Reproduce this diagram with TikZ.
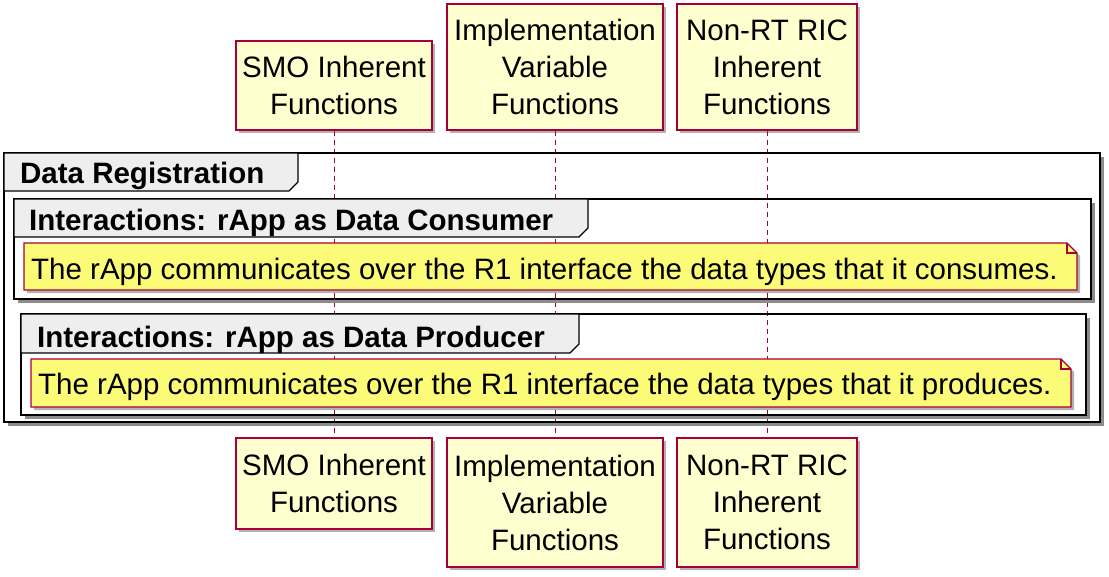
\documentclass[tikz,border=0pt]{standalone}
\usepackage{fontspec}
\setmainfont{Liberation Sans}
\usetikzlibrary{shadows}
\definecolor{umlred}{HTML}{A80036}
\definecolor{partfill}{HTML}{FEFECE}
\definecolor{notefill}{HTML}{FBFB77}
\definecolor{tabfill}{HTML}{EEEEEE}
\begin{document}
\begin{tikzpicture}[x=1pt,y=-1pt,
  txt/.style={font=\fontsize{29.5}{37}\selectfont},
  shade/.style={drop shadow={shadow xshift=3pt,shadow yshift=-3pt,fill=black,opacity=0.3}},
  part/.style={txt,draw=umlred,fill=partfill,line width=1.1pt,align=center,inner sep=0pt,shade},
  lifeline/.style={draw=umlred,line width=0.8pt,dash pattern=on 5pt off 4pt},
  frameline/.style={draw=black,line width=2.2pt},
  frameshadow/.style={draw=black!45,line width=2.5pt},
  tabline/.style={draw=black,fill=tabfill,line width=1.2pt},
  notebox/.style={draw=umlred,fill=notefill,line width=1.1pt},
  noteshadow/.style={fill=black,opacity=0.3},
  title/.style={font=\fontsize{29.5}{37}\selectfont\bfseries,anchor=base west,inner sep=0pt},
  notetext/.style={txt,anchor=base west,inner sep=0pt},
]
\useasboundingbox (0,0) rectangle (1109,576);

% participants, top row
\node[part,minimum width=196pt,minimum height=89pt] (smoT) at (334,85.5) {SMO Inherent\\Functions};
\node[part,minimum width=216pt,minimum height=126pt] (impT) at (555,67) {Implementation\\Variable\\Functions};
\node[part,minimum width=180pt,minimum height=126pt] (ricT) at (767,67) {Non-RT RIC\\Inherent\\Functions};

% participants, bottom row
\node[part,minimum width=196pt,minimum height=91pt] (smoB) at (334,483.5) {SMO Inherent\\Functions};
\node[part,minimum width=216pt,minimum height=129pt] (impB) at (555,502.5) {Implementation\\Variable\\Functions};
\node[part,minimum width=180pt,minimum height=129pt] (ricB) at (767,502.5) {Non-RT RIC\\Inherent\\Functions};

% lifelines
\draw[lifeline] (smoT.south) -- (smoB.north);
\draw[lifeline] (impT.south) -- (impB.north);
\draw[lifeline] (ricT.south) -- (ricB.north);

% outer group: Data Registration
\draw[frameshadow] (8,424.5) -- (1102.5,424.5) -- (1102.5,157);
\draw[frameline] (4,153) rectangle (1100,422);
\draw[tabline] (4,153) -- (298,153) -- (298,182) -- (289,191) -- (4,191) -- cycle;
\node[title] (tDR) at (20,183) {Data Registration};

% group: consumer
\draw[frameshadow] (18,301.5) -- (1093.5,301.5) -- (1093.5,203);
\draw[frameline] (14,199) rectangle (1091,299);
\draw[tabline] (14,199) -- (588,199) -- (588,228) -- (579,237) -- (14,237) -- cycle;
\node[title] (tC) at (29,230) {Interactions: rApp as Data Consumer};

\fill[noteshadow] (27,246) -- (1070,246) -- (1080,256) -- (1080,293) -- (27,293) -- cycle;
\draw[notebox] (24,243) -- (1067,243) -- (1077,253) -- (1077,290) -- (24,290) -- cycle;
\draw[umlred,line width=1.1pt] (1067,243) -- (1067,253) -- (1077,253);
\node[notetext] (nC) at (31,279) {The rApp communicates over the R1 interface the data types that it consumes.};

% group: producer
\draw[frameshadow] (25,417.5) -- (1088.5,417.5) -- (1088.5,318);
\draw[frameline] (21,314) rectangle (1086,415);
\draw[tabline] (21,314) -- (579,314) -- (579,344) -- (570,353) -- (21,353) -- cycle;
\node[title] (tP) at (37,347) {Interactions: rApp as Data Producer};

\fill[noteshadow] (34,362) -- (1064,362) -- (1074,372) -- (1074,410) -- (34,410) -- cycle;
\draw[notebox] (31,359) -- (1061,359) -- (1071,369) -- (1071,407) -- (31,407) -- cycle;
\draw[umlred,line width=1.1pt] (1061,359) -- (1061,369) -- (1071,369);
\node[notetext] (nP) at (38,394) {The rApp communicates over the R1 interface the data types that it produces.};
\end{tikzpicture}
\end{document}
